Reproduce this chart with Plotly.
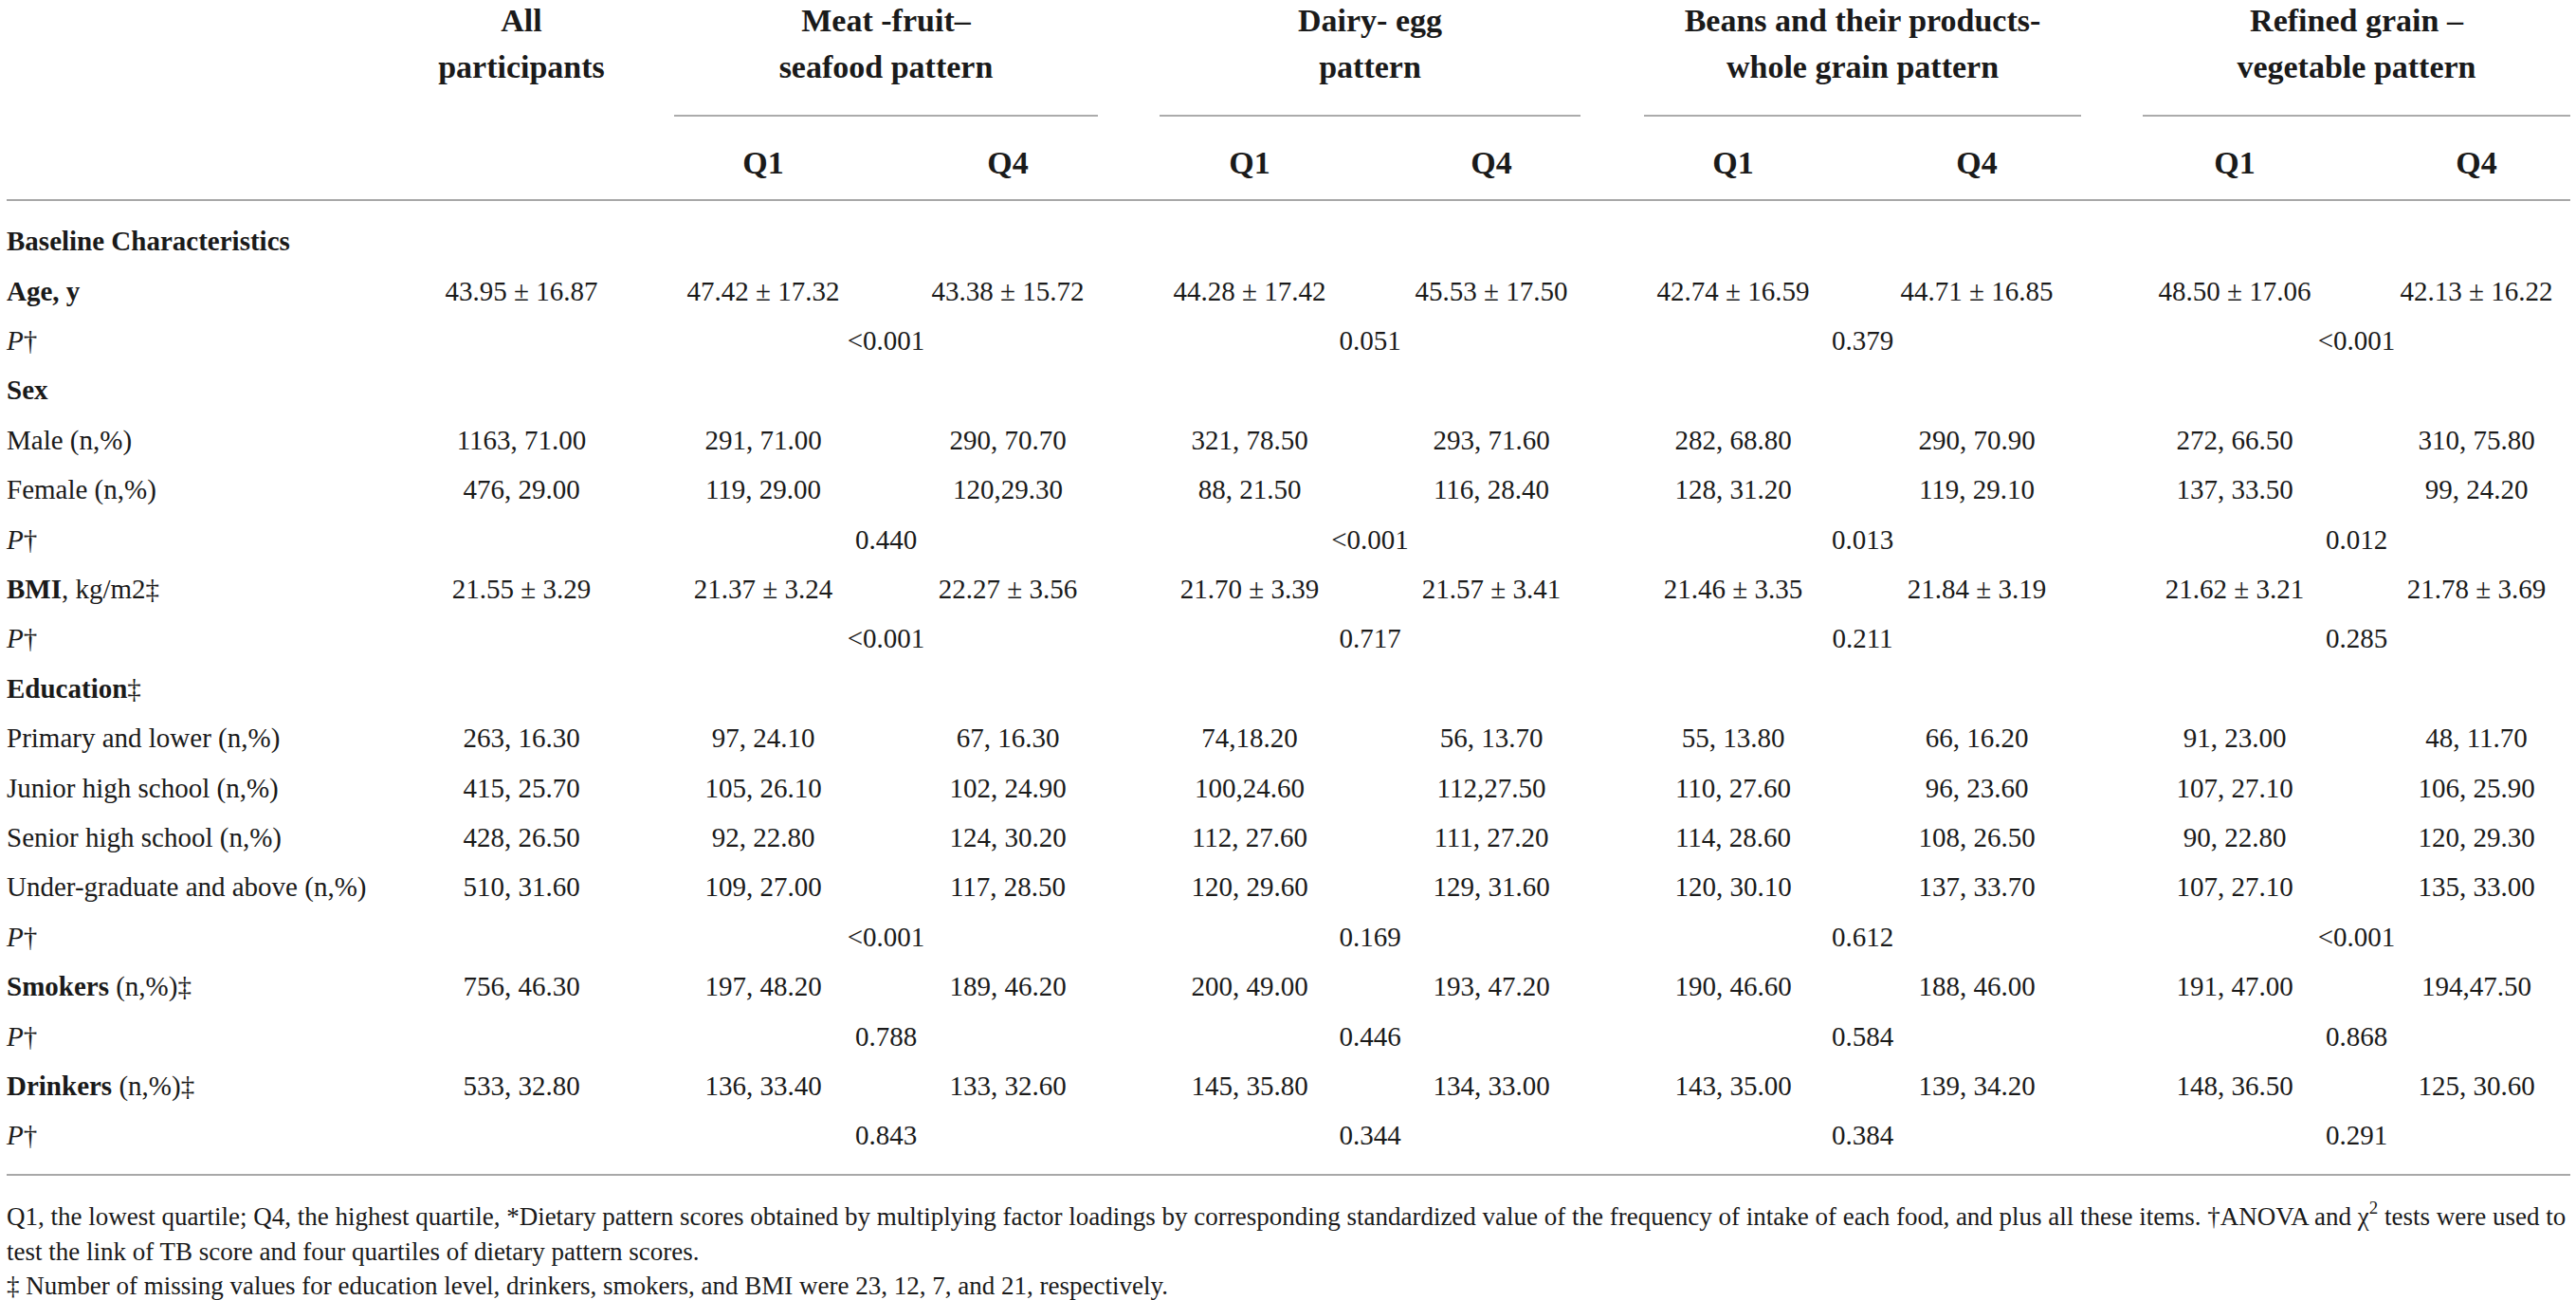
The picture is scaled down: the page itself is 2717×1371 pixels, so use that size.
import plotly.graph_objects as go

# table content -------------------------------------------------------------
group_line1 = ["All", "Meat -fruit–", "Dairy- egg", "Beans and their products-", "Refined grain –"]
group_line2 = ["participants", "seafood pattern", "pattern", "whole grain pattern", "vegetable pattern"]
quartiles = ["Q1", "Q4", "Q1", "Q4", "Q1", "Q4", "Q1", "Q4"]

age = ["43.95 ± 16.87", "47.42 ± 17.32", "43.38 ± 15.72", "44.28 ± 17.42", "45.53 ± 17.50",
       "42.74 ± 16.59", "44.71 ± 16.85", "48.50 ± 17.06", "42.13 ± 16.22"]
p_age = ["<0.001", "0.051", "0.379", "<0.001"]
male = ["1163, 71.00", "291, 71.00", "290, 70.70", "321, 78.50", "293, 71.60",
        "282, 68.80", "290, 70.90", "272, 66.50", "310, 75.80"]
female = ["476, 29.00", "119, 29.00", "120,29.30", "88, 21.50", "116, 28.40",
          "128, 31.20", "119, 29.10", "137, 33.50", "99, 24.20"]
p_sex = ["0.440", "<0.001", "0.013", "0.012"]
bmi = ["21.55 ± 3.29", "21.37 ± 3.24", "22.27 ± 3.56", "21.70 ± 3.39", "21.57 ± 3.41",
       "21.46 ± 3.35", "21.84 ± 3.19", "21.62 ± 3.21", "21.78 ± 3.69"]
p_bmi = ["<0.001", "0.717", "0.211", "0.285"]
primary = ["263, 16.30", "97, 24.10", "67, 16.30", "74,18.20", "56, 13.70",
           "55, 13.80", "66, 16.20", "91, 23.00", "48, 11.70"]
junior = ["415, 25.70", "105, 26.10", "102, 24.90", "100,24.60", "112,27.50",
          "110, 27.60", "96, 23.60", "107, 27.10", "106, 25.90"]
senior = ["428, 26.50", "92, 22.80", "124, 30.20", "112, 27.60", "111, 27.20",
          "114, 28.60", "108, 26.50", "90, 22.80", "120, 29.30"]
graduate = ["510, 31.60", "109, 27.00", "117, 28.50", "120, 29.60", "129, 31.60",
            "120, 30.10", "137, 33.70", "107, 27.10", "135, 33.00"]
p_edu = ["<0.001", "0.169", "0.612", "<0.001"]
smokers = ["756, 46.30", "197, 48.20", "189, 46.20", "200, 49.00", "193, 47.20",
           "190, 46.60", "188, 46.00", "191, 47.00", "194,47.50"]
p_smoke = ["0.788", "0.446", "0.584", "0.868"]
drinkers = ["533, 32.80", "136, 33.40", "133, 32.60", "145, 35.80", "134, 33.00",
            "143, 35.00", "139, 34.20", "148, 36.50", "125, 30.60"]
p_drink = ["0.843", "0.344", "0.384", "0.291"]

P_LABEL = "<i>P</i>†"
# (row label, values per column, p values per pattern)
body = [
    ("<b>Baseline Characteristics</b>", None, None),
    ("<b>Age, y</b>", age, None),
    (P_LABEL, None, p_age),
    ("<b>Sex</b>", None, None),
    ("Male (n,%)", male, None),
    ("Female (n,%)", female, None),
    (P_LABEL, None, p_sex),
    ("<b>BMI</b>, kg/m2‡", bmi, None),
    (P_LABEL, None, p_bmi),
    ("<b>Education</b>‡", None, None),
    ("Primary and lower (n,%)", primary, None),
    ("Junior high school (n,%)", junior, None),
    ("Senior high school (n,%)", senior, None),
    ("Under-graduate and above (n,%)", graduate, None),
    (P_LABEL, None, p_edu),
    ("<b>Smokers</b> (n,%)‡", smokers, None),
    (P_LABEL, None, p_smoke),
    ("<b>Drinkers</b> (n,%)‡", drinkers, None),
    (P_LABEL, None, p_drink),
]

footnotes = [
    "Q1, the lowest quartile; Q4, the highest quartile, *Dietary pattern scores obtained by multiplying factor "
    "loadings by corresponding standardized value of the frequency of intake of each food, and plus all these "
    "items. †ANOVA and χ<sup>2</sup> tests were used to",
    "test the link of TB score and four quartiles of dietary pattern scores.",
    "‡ Number of missing values for education level, drinkers, smokers, and BMI were 23, 12, 7, and 21, respectively.",
]

# layout (pixel units on both axes) -----------------------------------------
W, H = 2717, 1371
LEFT = 7
COL_X = [550, 805, 1063, 1318, 1573, 1828, 2085, 2357, 2612]
GROUP_SPAN = [(711, 1158), (1223, 1667), (1734, 2195), (2260, 2711)]
GROUP_X = [COL_X[0]] + [(a + b) / 2 for a, b in GROUP_SPAN]
HEAD_Y = [24, 73]
UNDERLINE_Y = 122
QUART_Y = 174
TOP_RULE_Y = 211
BODY_Y0 = 257
ROW_H = 52.4
BOTTOM_RULE_Y = 1239
FOOT_Y = [1285, 1322, 1358]

FONT = "Liberation Serif, Times New Roman, serif"
INK = "#1a1a1a"
BODY_SIZE = 29
HEAD_SIZE = 34
FOOT_SIZE = 27

fig = go.Figure()

# header: group titles and Q1/Q4
hx, hy, ht = [], [], []
for line_y, line in zip(HEAD_Y, [group_line1, group_line2]):
    for gx, txt in zip(GROUP_X, line):
        hx.append(gx)
        hy.append(line_y)
        ht.append("<b>" + txt + "</b>")
for cx, q in zip(COL_X[1:], quartiles):
    hx.append(cx)
    hy.append(QUART_Y)
    ht.append("<b>" + q + "</b>")
fig.add_trace(go.Scatter(x=hx, y=hy, text=ht, mode="text", textposition="middle center",
                         textfont=dict(family=FONT, size=HEAD_SIZE, color=INK), hoverinfo="skip"))

# body rows
lx, ly, lt = [], [], []
vx, vy, vt = [], [], []
for i, (label, vals, pvals) in enumerate(body):
    y = BODY_Y0 + i * ROW_H
    lx.append(LEFT)
    ly.append(y)
    lt.append(label)
    if vals:
        for cx, v in zip(COL_X, vals):
            vx.append(cx)
            vy.append(y)
            vt.append(v)
    if pvals:
        for gx, p in zip(GROUP_X[1:], pvals):
            vx.append(gx)
            vy.append(y)
            vt.append(p)

fig.add_trace(go.Scatter(x=lx, y=ly, text=lt, mode="text", textposition="middle right",
                         textfont=dict(family=FONT, size=BODY_SIZE, color=INK), hoverinfo="skip"))
fig.add_trace(go.Scatter(x=vx, y=vy, text=vt, mode="text", textposition="middle center",
                         textfont=dict(family=FONT, size=BODY_SIZE, color=INK), hoverinfo="skip"))

# footnotes
fig.add_trace(go.Scatter(x=[LEFT] * len(footnotes), y=FOOT_Y, text=footnotes, mode="text",
                         textposition="middle right",
                         textfont=dict(family=FONT, size=FOOT_SIZE, color=INK), hoverinfo="skip"))

# rules
for a, b in GROUP_SPAN:
    fig.add_shape(type="line", x0=a, x1=b, y0=UNDERLINE_Y, y1=UNDERLINE_Y,
                  line=dict(color="#8f8f8f", width=1.5))
for ry in [TOP_RULE_Y, BOTTOM_RULE_Y]:
    fig.add_shape(type="line", x0=LEFT, x1=GROUP_SPAN[-1][1], y0=ry, y1=ry,
                  line=dict(color="#a8a8a8", width=2))

fig.update_layout(
    width=W, height=H,
    margin=dict(l=0, r=0, t=0, b=0),
    paper_bgcolor="white", plot_bgcolor="white",
    showlegend=False,
    xaxis=dict(range=[0, W], visible=False, fixedrange=True),
    yaxis=dict(range=[H, 0], visible=False, fixedrange=True),
)

fig.write_html("out.html", config={"displayModeBar": False},
               post_script="document.body.style.margin='0';")
